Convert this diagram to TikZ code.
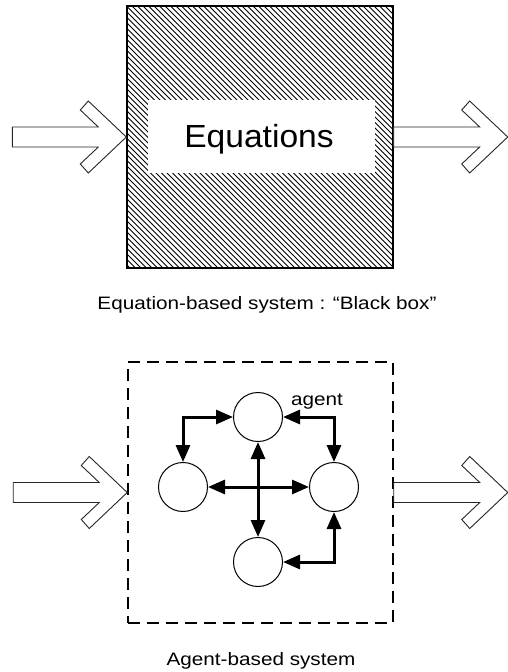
\documentclass[tikz,border=0pt]{standalone}
\usepackage{fontspec}
\setmainfont{Liberation Sans}
\newfontfamily\gfont[FakeStretch=1.15]{Liberation Sans}
\newfontfamily\bigfont[FakeStretch=1.05]{Liberation Sans}
\usetikzlibrary{arrows.meta,calc}

\tikzset{
  outline/.style={draw=black!85,line width=0.9pt,line join=miter,fill=white},
  fatarrow/.pic={
    \draw[outline] (-114,-10) -- (-28,-10) -- (-46,-27) -- (-38,-36) -- (0,0)
      -- (-38,36) -- (-46,27) -- (-28,10) -- (-114,10) -- cycle;
  },
  blackbox/.style={draw,line width=1.4pt,minimum width=266pt,minimum height=262pt,inner sep=0pt},
  hatch/.style={line width=1pt},
  labelbox/.style={fill=white,minimum width=227pt,minimum height=73pt,inner sep=0pt},
  agentbox/.style={draw,line width=1.5pt,dash pattern=on 12pt off 7pt,minimum width=265pt,minimum height=261pt,inner sep=0pt},
  agentnode/.style={circle,draw,line width=1pt,minimum size=49pt,inner sep=0pt},
  link/.style={line width=3pt,{Triangle[length=17pt,width=14pt]}-{Triangle[length=17pt,width=14pt]}},
  caption/.style={font=\gfont\fontsize{18}{22}\selectfont,anchor=base,inner sep=0pt},
}

\begin{document}
\begin{tikzpicture}[x=1pt,y=-1pt]
\useasboundingbox (0,0) rectangle (508,672);

% equation-based system: hatched black box
\node[blackbox] (box) at (260,137) {};
\begin{scope}
  \clip (box.north west) rectangle (box.south east);
  \foreach \i in {-270,-264.5,...,272}
    \draw[hatch] ($(box.north west)+(\i,0)$) -- ++(264,264);
\end{scope}
\draw[line width=1.4pt] (box.north west) rectangle (box.south east);
\node[labelbox] (eqlabel) at (261.5,136.5) {};
\node[anchor=base,inner sep=0pt,font=\bigfont\fontsize{32}{36}\selectfont] (eqtext) at (259,147) {Equations};

\pic at (box.west) {fatarrow};
\pic at ($(box.east)+(114,0)$) {fatarrow};

\node[caption] (cap1) at (267,309) {Equation-based system : “Black box”};

% agent-based system: dashed box with interacting agents
\node[agentbox] (abox) at (260.5,492.5) {};
\pic at (abox.west) {fatarrow};
\pic at ($(abox.east)+(114,0)$) {fatarrow};

\node[agentnode] (top) at (258,417) {};
\node[agentnode] (left) at (183,487) {};
\node[agentnode] (right) at (334,487) {};
\node[agentnode] (bottom) at (258,562) {};

\draw[link] (top.west) -| (left.north);
\draw[link] (top.east) -| (right.north);
\draw[link] (bottom.east) -| (right.south);
\draw[link] (top.south) -- (bottom.north);
\draw[link] (left.east) -- (right.west);

\node[caption] (agentlbl) at (317,405) {agent};

\node[caption] (cap2) at (261,665) {Agent-based system};
\end{tikzpicture}
\end{document}
